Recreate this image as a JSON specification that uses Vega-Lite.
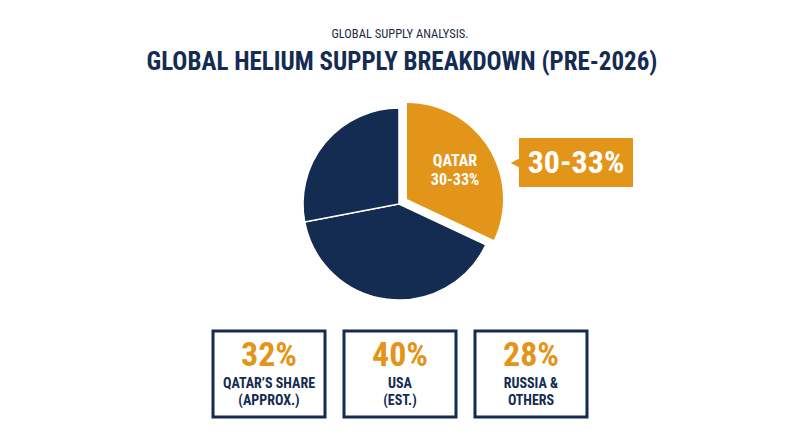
{
  "$schema": "https://vega.github.io/schema/vega-lite/v6.json",
  "width": 800,
  "height": 447,
  "autosize": {"type": "fit", "contains": "padding"},
  "padding": 0,
  "background": "white",
  "config": {"view": {"stroke": null}, "axis": {"disable": true}, "legend": {"disable": true}, "text": {"font": "'Roboto Condensed', 'Liberation Sans Narrow', 'DejaVu Sans Condensed', sans-serif"}},
  "datasets": {
    "slices": [
      {"region": "Qatar", "share": 32},
      {"region": "USA", "share": 40},
      {"region": "Russia & Others", "share": 28}
    ],
    "cards": [
      {"card": "Qatar", "value": "32%", "line1": "QATAR’S SHARE", "line2": "(APPROX.)"},
      {"card": "USA", "value": "40%", "line1": "USA", "line2": "(EST.)"},
      {"card": "Russia", "value": "28%", "line1": "RUSSIA &", "line2": "OTHERS"}
    ],
    "titles": [
      {"subtitle": "GLOBAL SUPPLY ANALYSIS.", "title": "GLOBAL HELIUM SUPPLY BREAKDOWN (PRE-2026)", "slice_label": "QATAR", "slice_value": "30-33%", "callout": "30-33%"}
    ]
  },
  "resolve": {"scale": {"x": "independent"}},
  "layer": [
    {
      "layer": [
        {
          "data": {"name": "titles"},
          "mark": {"type": "text", "fontSize": 12.5, "color": "#1c2b47", "align": "center", "baseline": "middle"},
          "encoding": {
            "x": {"datum": 400, "type": "quantitative", "scale": {"domain": [0, 800], "nice": false, "zero": false}},
            "y": {"datum": 34, "type": "quantitative", "scale": {"domain": [0, 447], "nice": false, "zero": false, "reverse": true}},
            "text": {"field": "subtitle"}
          }
        },
        {
          "data": {"name": "titles"},
          "mark": {"type": "text", "fontWeight": "bold", "fontSize": 25, "color": "#142b52", "align": "center", "baseline": "middle"},
          "encoding": {
            "x": {"datum": 402, "type": "quantitative"},
            "y": {"datum": 62, "type": "quantitative"},
            "text": {"field": "title"}
          }
        },
        {
          "data": {"name": "slices"},
          "transform": [{"window": [{"op": "row_number", "as": "rank"}]}],
          "mark": {"type": "arc", "outerRadius": 96, "stroke": "white", "strokeWidth": 1.5},
          "encoding": {
            "x": {"datum": 399, "type": "quantitative"},
            "y": {"datum": 204, "type": "quantitative"},
            "theta": {"field": "share", "type": "quantitative", "stack": true},
            "order": {"field": "rank", "type": "quantitative"},
            "color": {"field": "region", "type": "nominal", "scale": {"domain": ["Qatar", "USA", "Russia & Others"], "range": ["#e3951a", "#142b52", "#142b52"]}},
            "fillOpacity": {"condition": {"test": "datum.region === 'Qatar'", "value": 0}, "value": 1},
            "strokeOpacity": {"condition": {"test": "datum.region === 'Qatar'", "value": 0}, "value": 1}
          }
        },
        {
          "data": {"name": "slices"},
          "transform": [{"window": [{"op": "row_number", "as": "rank"}]}],
          "mark": {"type": "arc", "outerRadius": 96, "xOffset": 8, "yOffset": -5},
          "encoding": {
            "x": {"datum": 399, "type": "quantitative"},
            "y": {"datum": 204, "type": "quantitative"},
            "theta": {"field": "share", "type": "quantitative", "stack": true},
            "order": {"field": "rank", "type": "quantitative"},
            "color": {"field": "region", "type": "nominal"},
            "fillOpacity": {"condition": {"test": "datum.region === 'Qatar'", "value": 1}, "value": 0}
          }
        },
        {
          "data": {"name": "titles"},
          "mark": {"type": "text", "fontWeight": "bold", "fontSize": 16, "color": "white", "align": "center", "baseline": "middle"},
          "encoding": {
            "x": {"datum": 455, "type": "quantitative"},
            "y": {"datum": 161, "type": "quantitative"},
            "text": {"field": "slice_label"}
          }
        },
        {
          "data": {"name": "titles"},
          "mark": {"type": "text", "fontWeight": "bold", "fontSize": 16, "color": "white", "align": "center", "baseline": "middle"},
          "encoding": {
            "x": {"datum": 455, "type": "quantitative"},
            "y": {"datum": 180, "type": "quantitative"},
            "text": {"field": "slice_value"}
          }
        },
        {
          "data": {"name": "titles"},
          "mark": {"type": "rect", "color": "#e3951a"},
          "encoding": {
            "x": {"datum": 519, "type": "quantitative"},
            "x2": {"datum": 633},
            "y": {"datum": 138, "type": "quantitative"},
            "y2": {"datum": 187}
          }
        },
        {
          "data": {"name": "titles"},
          "mark": {"type": "point", "filled": true, "opacity": 1, "color": "#e3951a", "shape": "M 1 -1 L -0.9 0 L 1 1 Z", "size": 90},
          "encoding": {
            "x": {"datum": 515, "type": "quantitative"},
            "y": {"datum": 163, "type": "quantitative"}
          }
        },
        {
          "data": {"name": "titles"},
          "mark": {"type": "text", "fontWeight": "bold", "fontSize": 32, "color": "white", "align": "center", "baseline": "middle"},
          "encoding": {
            "x": {"datum": 576, "type": "quantitative"},
            "y": {"datum": 163, "type": "quantitative"},
            "text": {"field": "callout"}
          }
        }
      ]
    },
    {
      "data": {"name": "cards"},
      "layer": [
        {
          "mark": {"type": "rect", "fill": "white", "stroke": "#142b52", "strokeWidth": 3},
          "encoding": {
            "x": {"field": "card", "type": "nominal", "sort": null, "scale": {"type": "band", "domain": ["Qatar", "USA", "Russia"], "range": [213, 587], "paddingInner": 0.145, "paddingOuter": 0}},
            "y": {"datum": 331, "type": "quantitative"},
            "y2": {"datum": 417}
          }
        },
        {
          "mark": {"type": "text", "fontWeight": "bold", "fontSize": 34, "color": "#e3951a", "align": "center", "baseline": "middle"},
          "encoding": {
            "x": {"field": "card", "type": "nominal", "sort": null},
            "y": {"datum": 356, "type": "quantitative"},
            "text": {"field": "value"}
          }
        },
        {
          "mark": {"type": "text", "fontWeight": "bold", "fontSize": 14, "color": "#142b52", "align": "center", "baseline": "middle"},
          "encoding": {
            "x": {"field": "card", "type": "nominal", "sort": null},
            "y": {"datum": 384, "type": "quantitative"},
            "text": {"field": "line1"}
          }
        },
        {
          "mark": {"type": "text", "fontWeight": "bold", "fontSize": 14, "color": "#142b52", "align": "center", "baseline": "middle"},
          "encoding": {
            "x": {"field": "card", "type": "nominal", "sort": null},
            "y": {"datum": 401, "type": "quantitative"},
            "text": {"field": "line2"}
          }
        }
      ]
    }
  ]
}
